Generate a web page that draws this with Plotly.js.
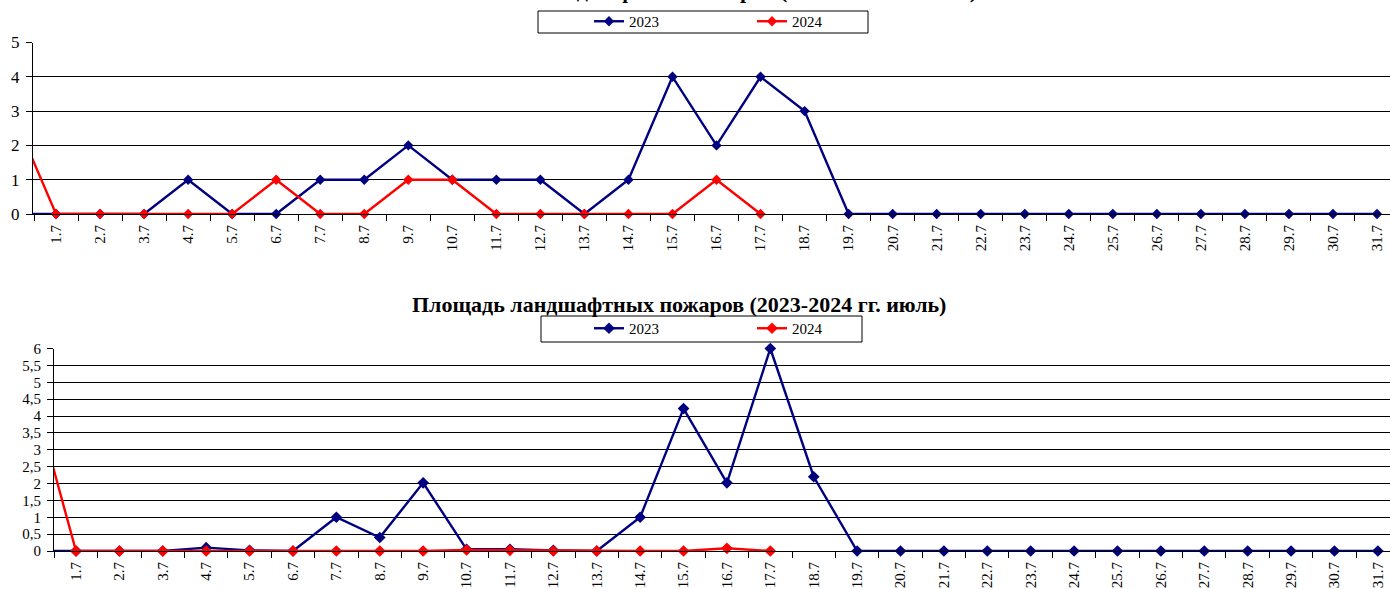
<!DOCTYPE html>
<html>
<head>
<meta charset="utf-8">
<script src="https://cdn.plot.ly/plotly-3.0.1.min.js"></script>
<style>html,body{margin:0;padding:0;background:#fff;}#chart{width:1390px;height:589px;}</style>
</head>
<body>
<div id="chart"></div>
<script>
// Categories (first one, 30.6, lies just outside the visible range)
const days = ["30.6","1.7","2.7","3.7","4.7","5.7","6.7","7.7","8.7","9.7","10.7","11.7","12.7","13.7","14.7","15.7","16.7","17.7","18.7","19.7","20.7","21.7","22.7","23.7","24.7","25.7","26.7","27.7","28.7","29.7","30.7","31.7"];

// Number of landscape fires
const count2023 = [0, 0,0,0,1,0,0,1,1,2,1,1,1,0,1,4,2,4,3, 0,0,0,0,0,0,0,0,0,0,0,0,0];
const count2024 = [3, 0,0,0,0,0,1,0,0,1,1,0,0,0,0,0,1,0, null,null,null,null,null,null,null,null,null,null,null,null,null,null];

// Area of landscape fires
const area2023 = [0, 0,0,0,0.1,0.02,0,1,0.4,2.02,0.05,0.05,0.02,0,1,4.22,2.02,6,2.2, 0,0,0,0,0,0,0,0,0,0,0,0,0];
const area2024 = [4.7, 0,0,0,0,0,0,0,0,0,0.03,0.02,0,0,0,0,0.08,0, null,null,null,null,null,null,null,null,null,null,null,null,null,null];

const seriesNames = ["2023","2024"];
const titleTop = "Количество ландшафтных пожаров (2023-2024 гг. июль)";
const titleBottom = "Площадь ландшафтных пожаров (2023-2024 гг. июль)";

const W = 1390, H = 589;
const px = x => x / W;
const py = y => (H - y) / H;

const BLUE = "#000080", RED = "#FF0000";
const FONT = "Liberation Serif, Times New Roman, serif";

function tr(y, name, color, xa, ya, leg, msize) {
  // the leading (previous-month) point only feeds the line entering the chart
  const op = days.map((d, i) => i === 0 ? 0 : 1);
  return {
    x: days, y: y, name: name, type: "scatter", mode: "lines+markers",
    xaxis: xa, yaxis: ya, legend: leg, cliponaxis: false,
    line: {color: color, width: 2.4},
    marker: {symbol: "diamond", size: msize, color: color, opacity: op},
    connectgaps: false, hoverinfo: "x+y"
  };
}

const data = [
  tr(count2023, seriesNames[0], BLUE, "x", "y", "legend", 8),
  tr(count2024, seriesNames[1], RED, "x", "y", "legend", 8),
  tr(area2023, seriesNames[0], BLUE, "x2", "y2", "legend2", 9),
  tr(area2024, seriesNames[1], RED, "x2", "y2", "legend2", 9)
];

const xCommon = {
  type: "category", tickson: "boundaries", ticks: "outside", ticklen: 6,
  tickcolor: "#000", showline: true, linecolor: "#000", linewidth: 1,
  showgrid: false, zeroline: false, tickangle: -90, ticklabelstandoff: 4,
  fixedrange: true
};
const yCommon = {
  showgrid: true, gridcolor: "#000", gridwidth: 1, showline: true,
  linecolor: "#000", linewidth: 1, ticks: "outside", ticklen: 6,
  tickcolor: "#000", zeroline: false, fixedrange: true, ticklabelstandoff: 3
};

const legendCommon = {
  orientation: "h", xanchor: "left", yanchor: "top",
  bgcolor: "rgba(0,0,0,0)", borderwidth: 0, entrywidth: 118, entrywidthmode: "pixels",
  font: {family: FONT, size: 15, color: "#000"}, itemclick: false, itemdoubleclick: false
};

const layout = {
  width: W, height: H,
  margin: {l: 0, r: 0, t: 0, b: 0, pad: 0},
  paper_bgcolor: "#fff", plot_bgcolor: "#fff",
  separators: ", ",
  showlegend: true,
  xaxis: Object.assign({}, xCommon, {domain: [px(33), 1], anchor: "y", range: [0.477, 31.295],
    tickfont: {family: FONT, size: 15, color: "#000"}}),
  yaxis: Object.assign({}, yCommon, {domain: [py(214), py(42.5)], anchor: "x", range: [0, 5], dtick: 1,
    tickfont: {family: FONT, size: 17, color: "#000"}}),
  xaxis2: Object.assign({}, xCommon, {domain: [px(54), 1], anchor: "y2", range: [0.493, 31.28],
    tickfont: {family: FONT, size: 15, color: "#000"}}),
  yaxis2: Object.assign({}, yCommon, {domain: [py(551), py(348.5)], anchor: "x2", range: [0, 6], dtick: 0.5,
    tickfont: {family: FONT, size: 15, color: "#000"}}),
  legend: Object.assign({}, legendCommon, {x: px(589), y: py(5)}),
  legend2: Object.assign({}, legendCommon, {x: px(589), y: py(312)}),
  shapes: [
    {type: "rect", xref: "paper", yref: "paper", x0: px(538), x1: px(868), y0: py(33), y1: py(11),
      line: {color: "#000", width: 1}, fillcolor: "rgba(0,0,0,0)", layer: "below"},
    {type: "rect", xref: "paper", yref: "paper", x0: px(541), x1: px(862), y0: py(342), y1: py(316),
      line: {color: "#000", width: 1}, fillcolor: "rgba(0,0,0,0)", layer: "below"}
  ],
  annotations: [
    {text: "<b>" + titleTop + "</b>", xref: "paper", yref: "paper", x: px(698), y: py(-10),
      xanchor: "center", yanchor: "middle", showarrow: false,
      font: {family: FONT, size: 22, color: "#000"}},
    {text: "<b>" + titleBottom + "</b>", xref: "paper", yref: "paper", x: px(679), y: py(304),
      xanchor: "center", yanchor: "middle", showarrow: false,
      font: {family: FONT, size: 22, color: "#000"}}
  ]
};

Plotly.newPlot("chart", data, layout, {displayModeBar: false, staticPlot: true});
</script>
</body>
</html>
